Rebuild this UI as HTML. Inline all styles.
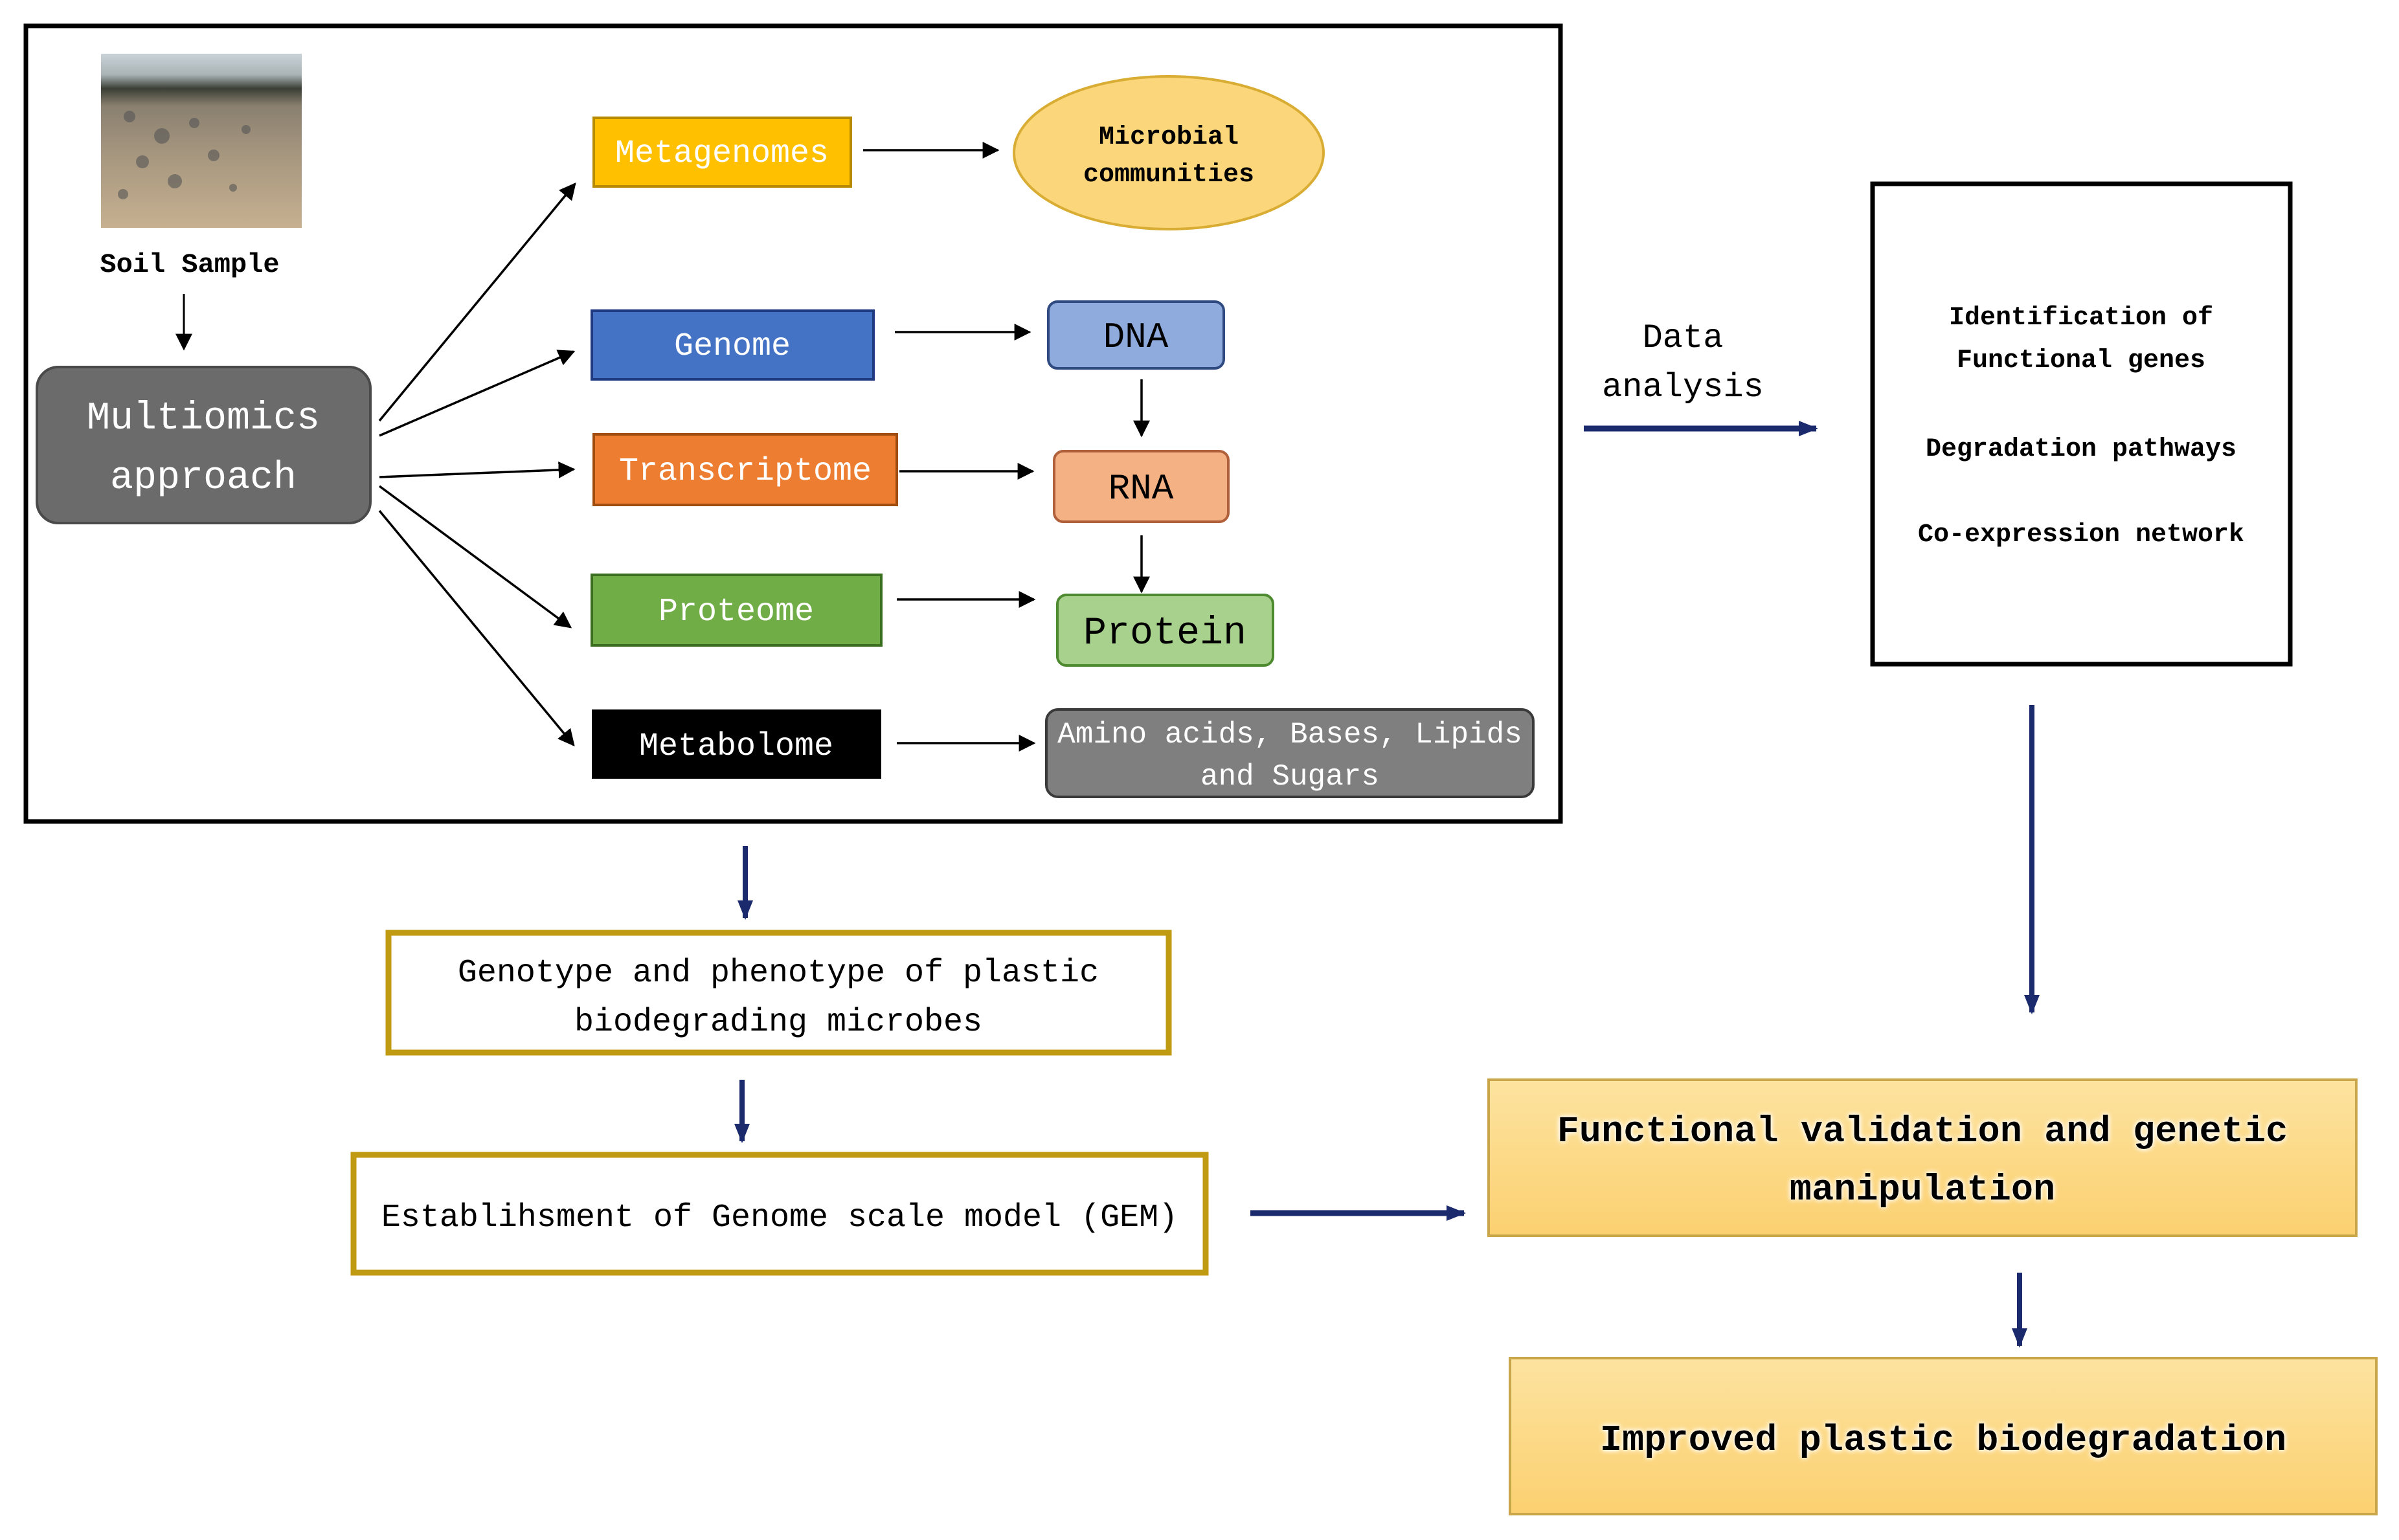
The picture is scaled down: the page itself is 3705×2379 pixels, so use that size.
<!DOCTYPE html>
<html><head><meta charset="utf-8"><style>
html,body{margin:0;padding:0;background:#fff}
svg{display:block}
text{font-family:"Liberation Mono",monospace}
</style></head><body>
<svg width="3705" height="2379" viewBox="0 0 3705 2379" xmlns="http://www.w3.org/2000/svg">
<defs>
<marker id="ab" markerWidth="8" markerHeight="8" refX="7" refY="4" orient="auto" markerUnits="userSpaceOnUse" viewBox="0 0 8 8"><path d="M0,0 L8,4 L0,8 z" fill="#000"/></marker>
<marker id="ak" viewBox="0 0 10 10" refX="9" refY="5" markerWidth="26" markerHeight="26" orient="auto" markerUnits="userSpaceOnUse"><path d="M0,0 L10,5 L0,10 z" fill="#000"/></marker>
<marker id="an" viewBox="0 0 10 10" refX="9" refY="5" markerWidth="34" markerHeight="30" orient="auto" markerUnits="userSpaceOnUse"><path d="M0,1 L10,5 L0,9 z" fill="#1a2a6c"/></marker>
<linearGradient id="gy" x1="0" y1="0" x2="0" y2="1"><stop offset="0" stop-color="#fde3a0"/><stop offset="1" stop-color="#fbd070"/></linearGradient>
<linearGradient id="ph" x1="0" y1="0" x2="0" y2="1"><stop offset="0" stop-color="#c9d2d8"/><stop offset="0.12" stop-color="#aab4b6"/><stop offset="0.2" stop-color="#3b3f35"/><stop offset="0.3" stop-color="#8a8070"/><stop offset="0.6" stop-color="#a89880"/><stop offset="1" stop-color="#c6b090"/></linearGradient>
<filter id="glow"><feGaussianBlur in="SourceAlpha" stdDeviation="4" result="b"/><feFlood flood-color="#fff"/><feComposite in2="b" operator="in" result="g"/><feMerge><feMergeNode in="g"/><feMergeNode in="g"/><feMergeNode in="SourceGraphic"/></feMerge></filter>
</defs>

<!-- main box -->
<rect x="40" y="40" width="2370" height="1229" fill="#fff" stroke="#000" stroke-width="7"/>
<!-- photo -->
<rect x="156" y="83" width="310" height="269" fill="url(#ph)"/>
<g fill="#555" opacity="0.6">
<circle cx="200" cy="180" r="9"/><circle cx="250" cy="210" r="12"/><circle cx="300" cy="190" r="8"/><circle cx="220" cy="250" r="10"/><circle cx="330" cy="240" r="9"/><circle cx="270" cy="280" r="11"/><circle cx="190" cy="300" r="8"/><circle cx="380" cy="200" r="7"/><circle cx="360" cy="290" r="6"/></g>
<text x="293" y="420" font-size="42" font-weight="bold" text-anchor="middle">Soil Sample</text>
<line x1="284" y1="454" x2="284" y2="539" stroke="#000" stroke-width="3" marker-end="url(#ak)"/>

<rect x="57" y="567" width="515" height="241" rx="33" fill="#6b6b6b" stroke="#4a4a4a" stroke-width="4"/>
<text x="314" y="662" font-size="60" fill="#fff" text-anchor="middle">Multiomics</text>
<text x="314" y="754" font-size="60" fill="#fff" text-anchor="middle">approach</text>

<g stroke="#000" stroke-width="3.5" fill="none">
<line x1="586" y1="650" x2="888" y2="284" marker-end="url(#ak)"/>
<line x1="586" y1="673" x2="886" y2="543" marker-end="url(#ak)"/>
<line x1="586" y1="737" x2="886" y2="725" marker-end="url(#ak)"/>
<line x1="586" y1="751" x2="881" y2="969" marker-end="url(#ak)"/>
<line x1="586" y1="789" x2="886" y2="1151" marker-end="url(#ak)"/>
<line x1="1333" y1="232" x2="1541" y2="232" marker-end="url(#ak)"/>
<line x1="1382" y1="513" x2="1590" y2="513" marker-end="url(#ak)"/>
<line x1="1389" y1="728" x2="1595" y2="728" marker-end="url(#ak)"/>
<line x1="1385" y1="926" x2="1597" y2="926" marker-end="url(#ak)"/>
<line x1="1385" y1="1148" x2="1597" y2="1148" marker-end="url(#ak)"/>
<line x1="1763" y1="586" x2="1763" y2="673" marker-end="url(#ak)"/>
<line x1="1763" y1="827" x2="1763" y2="914" marker-end="url(#ak)"/>
</g>

<rect x="917" y="182" width="397" height="106" fill="#ffc000" stroke="#b88a00" stroke-width="4"/>
<text x="1115" y="250" font-size="50" fill="#fff" text-anchor="middle">Metagenomes</text>
<ellipse cx="1805" cy="236" rx="239" ry="118" fill="#fbd67a" stroke="#d9ad33" stroke-width="4"/>
<text x="1805" y="222" font-size="40" font-weight="bold" text-anchor="middle">Microbial</text>
<text x="1805" y="280" font-size="40" font-weight="bold" text-anchor="middle">communities</text>

<rect x="914" y="480" width="435" height="106" fill="#4472c4" stroke="#1f3a80" stroke-width="4"/>
<text x="1131" y="548" font-size="50" fill="#fff" text-anchor="middle">Genome</text>
<rect x="1619" y="466" width="271" height="103" rx="14" fill="#8faadc" stroke="#2f4a80" stroke-width="4"/>
<text x="1754" y="536" font-size="56" text-anchor="middle">DNA</text>

<rect x="917" y="671" width="468" height="109" fill="#ed7d31" stroke="#a04e10" stroke-width="4"/>
<text x="1151" y="741" font-size="50" fill="#fff" text-anchor="middle">Transcriptome</text>
<rect x="1628" y="697" width="269" height="109" rx="14" fill="#f4b183" stroke="#b0603a" stroke-width="4"/>
<text x="1762" y="770" font-size="56" text-anchor="middle">RNA</text>

<rect x="914" y="888" width="447" height="109" fill="#70ad47" stroke="#3c6e20" stroke-width="4"/>
<text x="1137" y="958" font-size="50" fill="#fff" text-anchor="middle">Proteome</text>
<rect x="1633" y="919" width="333" height="109" rx="14" fill="#a9d18e" stroke="#4e8a30" stroke-width="4"/>
<text x="1799" y="994" font-size="60" text-anchor="middle">Protein</text>

<rect x="914" y="1096" width="447" height="107" fill="#000"/>
<text x="1137" y="1166" font-size="50" fill="#fff" text-anchor="middle">Metabolome</text>
<rect x="1616" y="1096" width="752" height="135" rx="18" fill="#7f7f7f" stroke="#3a3a3a" stroke-width="4"/>
<text x="1992" y="1147" font-size="46" fill="#fff" text-anchor="middle">Amino acids, Bases, Lipids</text>
<text x="1992" y="1212" font-size="46" fill="#fff" text-anchor="middle">and Sugars</text>

<!-- right -->
<text x="2599" y="536" font-size="52" text-anchor="middle">Data</text>
<text x="2599" y="612" font-size="52" text-anchor="middle">analysis</text>
<line x1="2446" y1="662" x2="2805" y2="662" stroke="#1a2a6c" stroke-width="9" marker-end="url(#an)"/>
<rect x="2892" y="284" width="645" height="742" fill="#fff" stroke="#000" stroke-width="7"/>
<g font-size="40" font-weight="bold" text-anchor="middle">
<text x="3214" y="501">Identification of</text>
<text x="3214" y="567">Functional genes</text>
<text x="3214" y="704">Degradation pathways</text>
<text x="3214" y="836">Co-expression network</text>
</g>
<line x1="3138" y1="1089" x2="3138" y2="1564" stroke="#1a2a6c" stroke-width="8" marker-end="url(#an)"/>

<!-- bottom left -->
<line x1="1151" y1="1307" x2="1151" y2="1418" stroke="#1a2a6c" stroke-width="8" marker-end="url(#an)"/>
<rect x="600" y="1441" width="1205" height="185" fill="#fff" stroke="#c09a10" stroke-width="9"/>
<text x="1202" y="1516" font-size="50" text-anchor="middle">Genotype and phenotype of plastic</text>
<text x="1202" y="1592" font-size="50" text-anchor="middle">biodegrading microbes</text>
<line x1="1146" y1="1668" x2="1146" y2="1763" stroke="#1a2a6c" stroke-width="8" marker-end="url(#an)"/>
<rect x="546" y="1784" width="1316" height="182" fill="#fff" stroke="#c09a10" stroke-width="9"/>
<text x="1204" y="1894" font-size="50" text-anchor="middle">Establihsment of Genome scale model (GEM)</text>
<line x1="1931" y1="1874" x2="2261" y2="1874" stroke="#1a2a6c" stroke-width="9" marker-end="url(#an)"/>

<rect x="2299" y="1668" width="1340" height="241" fill="url(#gy)" stroke="#c9a64a" stroke-width="4"/>
<g filter="url(#glow)" font-size="57" font-weight="bold" text-anchor="middle">
<text x="2969" y="1763">Functional validation and genetic</text>
<text x="2969" y="1853">manipulation</text>
</g>
<line x1="3119" y1="1966" x2="3119" y2="2079" stroke="#1a2a6c" stroke-width="8" marker-end="url(#an)"/>
<rect x="2332" y="2098" width="1338" height="241" fill="url(#gy)" stroke="#c9a64a" stroke-width="4"/>
<g filter="url(#glow)" font-size="57" font-weight="bold" text-anchor="middle">
<text x="3001" y="2240">Improved plastic biodegradation</text>
</g>
</svg>
</body></html>
